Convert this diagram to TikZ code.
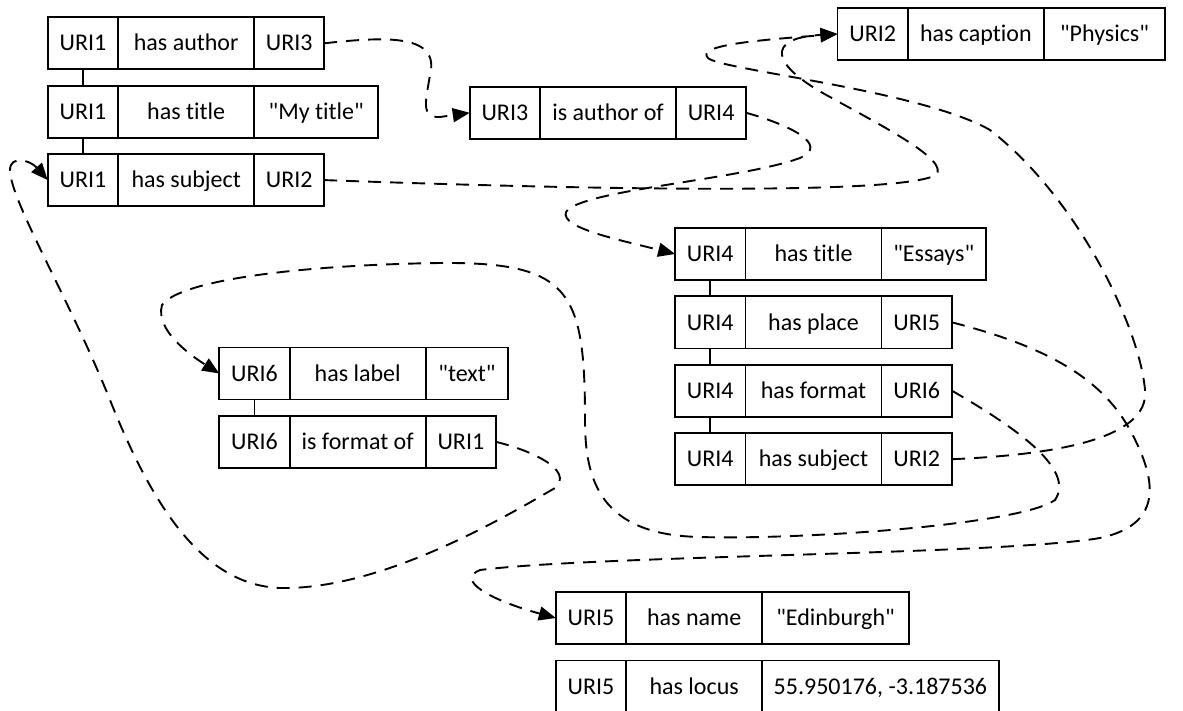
\documentclass[tikz,border=0pt]{standalone}
\usepackage{fontspec}
\setmainfont{Carlito}[Ligatures={TeXOff,CommonOff}]
\usetikzlibrary{positioning,arrows.meta}

\begin{document}
\begin{tikzpicture}
	[
	  x=0.5pt, y=-0.5pt,
	  font=\fontsize{12pt}{14pt}\selectfont,
	  node distance=8.2pt,
	  cell/.style={draw, line width=0.9pt, minimum height=26pt, inner sep=0pt, outer sep=0pt,
	    text height=9.9pt, text depth=2.2pt},
	  subj/.style={cell, minimum width=35.2pt},
	  pred/.style={cell, minimum width=68pt},
	  tie/.style={line width=0.9pt},
	  link/.style={line width=0.95pt, dash pattern=on 6.5pt off 4.5pt, -{Triangle[length=8.5pt, width=7pt]}},
	]
	\useasboundingbox (0,0) rectangle (1183,711);
	% URI1
	\node (a1s) [subj] at (83,43.3) {URI1};
	\node (a1p) [pred, right=0pt of a1s] {has author};
	\node (a1o) [cell, minimum width=35pt, right=0pt of a1p] {URI3};
	\node (a2s) [subj, below=of a1s] {URI1};
	\node (a2p) [pred, right=0pt of a2s] {has title};
	\node (a2o) [cell, minimum width=62pt, right=0pt of a2p] {"My title"};
	\node (a3s) [subj, below=of a2s] {URI1};
	\node (a3p) [pred, right=0pt of a3s] {has subject};
	\node (a3o) [cell, minimum width=35pt, right=0pt of a3p] {URI2};
	% URI3
	\node (b1s) [subj] at (504.9,112.8) {URI3};
	\node (b1p) [pred, right=0pt of b1s] {is author of};
	\node (b1o) [cell, minimum width=35pt, right=0pt of b1p] {URI4};
	% URI2
	\node (c1s) [subj] at (872.7,34) {URI2};
	\node (c1p) [pred, right=0pt of c1s] {has caption};
	\node (c1o) [cell, minimum width=60.6pt, right=0pt of c1p] {"Physics"};
	% URI4
	\node (d1s) [subj] at (710.3,254) {URI4};
	\node (d1p) [pred, right=0pt of d1s] {has title};
	\node (d1o) [cell, minimum width=52.2pt, right=0pt of d1p] {"Essays"};
	\node (d2s) [subj, below=of d1s] {URI4};
	\node (d2p) [pred, right=0pt of d2s] {has place};
	\node (d2o) [cell, minimum width=35.3pt, right=0pt of d2p] {URI5};
	\node (d3s) [subj, below=of d2s] {URI4};
	\node (d3p) [pred, right=0pt of d3s] {has format};
	\node (d3o) [cell, minimum width=35.3pt, right=0pt of d3p] {URI6};
	\node (d4s) [subj, below=of d3s] {URI4};
	\node (d4p) [pred, right=0pt of d4s] {has subject};
	\node (d4o) [cell, minimum width=35.3pt, right=0pt of d4p] {URI2};
	% URI6
	\node (e1s) [subj] at (254.5,373.5) {URI6};
	\node (e1p) [pred, right=0pt of e1s] {has label};
	\node (e1o) [cell, minimum width=41.3pt, right=0pt of e1p] {"text"};
	\node (e2s) [subj, below=of e1s] {URI6};
	\node (e2p) [pred, right=0pt of e2s] {is format of};
	\node (e2o) [cell, minimum width=35.2pt, right=0pt of e2p] {URI1};
	% URI5
	\node (f1s) [subj] at (591,618) {URI5};
	\node (f1p) [pred, right=0pt of f1s] {has name};
	\node (f1o) [cell, minimum width=73.3pt, right=0pt of f1p] {"Edinburgh"};
	\node (f2s) [subj, below=of f1s] {URI5};
	\node (f2p) [pred, right=0pt of f2s] {has locus};
	\node (f2o) [cell, minimum width=118.2pt, right=0pt of f2p] {55.950176, -3.187536};
	\draw [tie] (a1s) -- (a2s) (a2s) -- (a3s)
	  (d1s) -- (d2s) (d2s) -- (d3s) (d3s) -- (d4s)
	  (e1s) -- (e2s);
	\draw [link] (a1o.east) .. controls (390,36) and (440,35) .. (430,75)
	  .. controls (426,100) and (420,118) .. (440,117) -- (b1s.west);
	\draw [link] (a3o.east) .. controls (600,190) and (900,195) .. (936,175)
	  .. controls (950,160) and (880,125) .. (830,97)
	  .. controls (770,65) and (765,38) .. (c1s.west);
	\draw [link] (b1o.east) .. controls (790,125) and (830,145) .. (800,158)
	  .. controls (740,180) and (580,190) .. (566,212)
	  .. controls (560,228) and (620,240) .. (d1s.west);
	\draw [link] (d2o.east) .. controls (1040,345) and (1100,375) .. (1130,430)
	  .. controls (1160,485) and (1160,525) .. (1100,538)
	  .. controls (1000,555) and (600,555) .. (480,570)
	  .. controls (455,580) and (490,600) .. (f1s.west);
	\draw [link] (d3o.east) .. controls (1020,430) and (1075,470) .. (1055,500)
	  .. controls (1020,525) and (800,540) .. (700,537)
	  .. controls (600,535) and (585,480) .. (585,420)
	  .. controls (585,290) and (570,262) .. (440,263)
	  .. controls (300,265) and (180,280) .. (162,305)
	  .. controls (155,330) and (190,355) .. (e1s.west);
	\draw [link] (d4o.east) .. controls (1050,455) and (1150,440) .. (1145,390)
	  .. controls (1140,330) and (1080,200) .. (990,130)
	  .. controls (920,90) and (720,70) .. (708,58)
	  .. controls (695,45) and (760,40) .. (c1s.west);
	\draw [link] (e2o.east) .. controls (530,450) and (575,470) .. (555,488)
	  .. controls (500,520) and (380,590) .. (280,588)
	  .. controls (200,585) and (150,500) .. (110,400)
	  .. controls (70,300) and (10,200) .. (10,170)
	  .. controls (10,155) and (30,160) .. (a3s.west);
\end{tikzpicture}
\end{document}
